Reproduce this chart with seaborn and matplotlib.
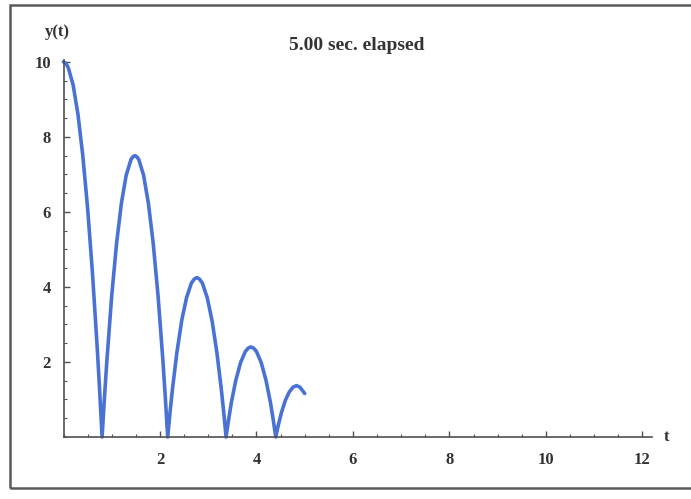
import matplotlib.pyplot as plt
import seaborn as sns
from matplotlib.patches import Rectangle
from matplotlib.ticker import MultipleLocator

# values (bouncing ball height vs time)
T_VALUES = [
    0.00, 0.05, 0.10, 0.20, 0.30, 0.40, 0.50, 0.60, 0.70, 0.75, 0.80,
    0.85, 0.90, 1.00, 1.10, 1.20, 1.30, 1.40, 1.44, 1.48, 1.52, 1.56, 1.66, 1.76, 1.86, 1.96, 2.06, 2.11, 2.16,
    2.21, 2.26, 2.35, 2.45, 2.55, 2.65, 2.71, 2.765, 2.82, 2.88, 2.98, 3.08, 3.18, 3.27, 3.32, 3.37,
    3.42, 3.48, 3.57, 3.67, 3.77, 3.83, 3.885, 3.94, 4.00, 4.10, 4.20, 4.29, 4.35, 4.40,
    4.45, 4.52, 4.60, 4.68, 4.76, 4.83, 4.90, 5.00,
]
Y_VALUES = [
    10.00, 9.96, 9.84, 9.38, 8.60, 7.50, 6.10, 4.38, 2.36, 1.23, 0.00,
    1.07, 2.05, 3.77, 5.16, 6.23, 6.98, 7.40, 7.47, 7.50, 7.47, 7.40, 6.98, 6.23, 5.16, 3.77, 2.05, 1.07, 0.00,
    0.68, 1.29, 2.25, 3.10, 3.71, 4.10, 4.21, 4.25, 4.21, 4.10, 3.71, 3.10, 2.25, 1.29, 0.68, 0.00,
    0.44, 0.92, 1.50, 1.98, 2.28, 2.37, 2.40, 2.37, 2.28, 1.98, 1.50, 0.92, 0.44, 0.00,
    0.30, 0.66, 0.98, 1.20, 1.33, 1.37, 1.33, 1.16,
]
X_TICKS = [2, 4, 6, 8, 10, 12]
Y_TICKS = [2, 4, 6, 8, 10]
ELAPSED = "5.00 sec. elapsed"

LINE_COLOR = "#4a72d4"
AXIS_COLOR = "#505050"


def main() -> None:
    sns.set_theme(style="white")
    plt.rcParams["font.family"] = ["Liberation Serif", "DejaVu Serif"]

    fig = plt.figure(figsize=(6.91, 4.99), dpi=100)
    ax = fig.add_axes([63.5 / 691, 1 - 437 / 499, (652 - 63.5) / 691, (437 - 60) / 499])

    line = sns.lineplot(x=T_VALUES, y=Y_VALUES, color=LINE_COLOR, linewidth=2.6, ax=ax,
                        sort=False, clip_on=False)
    for ln in line.get_lines():
        ln.set_solid_joinstyle("round")
        ln.set_solid_capstyle("round")

    ax.set_xlim(0, 12.2)
    ax.set_ylim(0, 10.05)
    ax.set_xticks(X_TICKS)
    ax.set_yticks(Y_TICKS)
    ax.xaxis.set_minor_locator(MultipleLocator(0.5))
    ax.yaxis.set_minor_locator(MultipleLocator(0.5))
    ax.tick_params(axis="both", which="both", bottom=True, left=True, top=False, right=False)
    ax.tick_params(axis="both", which="major", direction="in", length=4, width=1,
                   color=AXIS_COLOR, labelsize=12, labelcolor="#333333")
    ax.tick_params(axis="both", which="minor", direction="in", length=2, width=0.8,
                   color=AXIS_COLOR)
    ax.tick_params(axis="x", which="major", pad=11)
    ax.tick_params(axis="y", which="major", pad=9)
    for lab in ax.get_xticklabels() + ax.get_yticklabels():
        lab.set_fontweight("bold")

    for side in ["top", "right"]:
        ax.spines[side].set_visible(False)
    for side in ["left", "bottom"]:
        ax.spines[side].set_color(AXIS_COLOR)
        ax.spines[side].set_linewidth(1.2)
    ax.set_xlabel("")
    ax.set_ylabel("")
    ax.set_facecolor("white")

    fig.text(667 / 691, 1 - 437 / 499, "t", ha="center", va="center",
             fontsize=12, fontweight="bold", color="#333333")
    fig.text(57 / 691, 1 - 32 / 499, "y(t)", ha="center", va="center",
             fontsize=12, fontweight="bold", color="#333333")
    fig.text(357 / 691, 1 - 45 / 499, ELAPSED, ha="center", va="center",
             fontsize=14, fontweight="bold", color="#333333")

    fig.patches.append(Rectangle((10 / 691, 1 - 488 / 499), 1.0, (488 - 5) / 499,
                                 transform=fig.transFigure, fill=False,
                                 edgecolor="#5a5a5a", linewidth=1.8))

    fig.savefig("out.png", dpi=100)
    plt.close(fig)


if __name__ == "__main__":
    main()
